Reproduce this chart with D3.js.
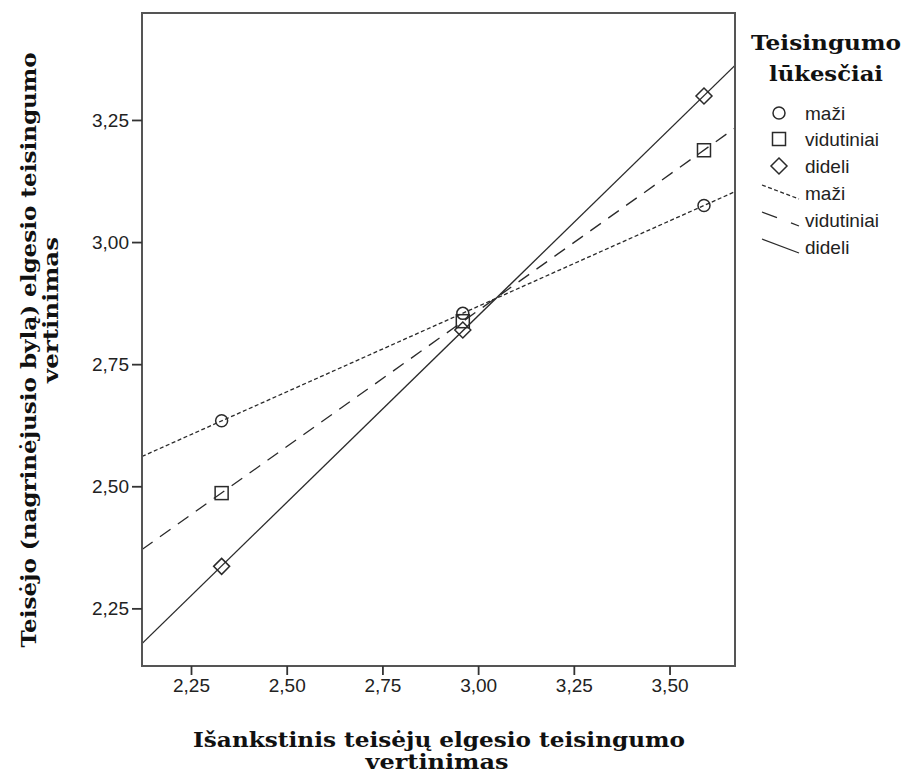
<!DOCTYPE html>
<html>
<head>
<meta charset="utf-8">
<script src="https://cdn.jsdelivr.net/npm/d3@7"></script>
<style>
  html, body { margin: 0; padding: 0; background: #fff; }
  svg { display: block; }
</style>
</head>
<body>
<svg id="chart" width="904" height="778"></svg>
<script>
// ---- data ----
const groupX = [2.33, 2.96, 3.59];
const seriesNames = ["maži", "vidutiniai", "dideli"];
const maziValues = [2.634, 2.854, 3.075];
const vidutiniaiValues = [2.486, 2.838, 3.188];
const dideliValues = [2.336, 2.820, 3.299];
const xTickValues = [2.25, 2.50, 2.75, 3.00, 3.25, 3.50];
const yTickValues = [2.25, 2.50, 2.75, 3.00, 3.25];
const xDomain = [2.122, 3.671];
const yDomain = [2.132, 3.469];
const xTitle = "Išankstinis teisėjų elgesio teisingumo";
const xTitle2 = "vertinimas";
const yTitle = "Teisėjo (nagrinėjusio bylą) elgesio teisingumo";
const yTitle2 = "vertinimas";
const legendTitle1 = "Teisingumo";
const legendTitle2 = "lūkesčiai";

const series = [
  { name: seriesNames[0], values: maziValues, marker: "circle", dash: "4,2.5", legDash: "4,2.5" },
  { name: seriesNames[1], values: vidutiniaiValues, marker: "square", dash: "13,9", legDash: "16,15" },
  { name: seriesNames[2], values: dideliValues, marker: "diamond", dash: null, legDash: null }
];

// ---- layout ----
const L = 142, R = 735, T = 13, B = 666;
const svg = d3.select("#chart");
const x = d3.scaleLinear().domain(xDomain).range([L, R]);
const y = d3.scaleLinear().domain(yDomain).range([B, T]);
const fmt = v => d3.format(".2f")(v).replace(".", ",");
const ink = "#2a2a2a";
const sansFont = "'Liberation Sans', Arial, sans-serif";
const serifFont = "'DejaVu Serif', serif";
const labelSize = 19;

svg.append("defs").append("clipPath").attr("id", "plotclip")
  .append("rect").attr("x", L).attr("y", T).attr("width", R - L).attr("height", B - T);

// least squares fit
function fit(xs, ys) {
  const mx = d3.mean(xs), my = d3.mean(ys);
  let num = 0, den = 0;
  xs.forEach((xv, i) => { num += (xv - mx) * (ys[i] - my); den += (xv - mx) * (xv - mx); });
  const b = num / den;
  return v => my + b * (v - mx);
}

// fit lines
const gLines = svg.append("g").attr("clip-path", "url(#plotclip)");
series.forEach(s => {
  const f = fit(groupX, s.values);
  gLines.append("line")
    .attr("x1", x(xDomain[0])).attr("y1", y(f(xDomain[0])))
    .attr("x2", x(xDomain[1])).attr("y2", y(f(xDomain[1])))
    .attr("stroke", ink).attr("stroke-width", 1.3)
    .attr("stroke-dasharray", s.dash);
});

// markers
function drawMarker(g, type, cx, cy) {
  if (type === "circle") {
    g.append("circle").attr("cx", cx).attr("cy", cy).attr("r", 6)
      .attr("fill", "none").attr("stroke", ink).attr("stroke-width", 1.5);
  } else if (type === "square") {
    g.append("rect").attr("x", cx - 6.5).attr("y", cy - 6.5).attr("width", 13).attr("height", 13)
      .attr("fill", "none").attr("stroke", ink).attr("stroke-width", 1.5);
  } else {
    const r = 8;
    g.append("path").attr("d", `M${cx},${cy - r}L${cx + r},${cy}L${cx},${cy + r}L${cx - r},${cy}Z`)
      .attr("fill", "none").attr("stroke", ink).attr("stroke-width", 1.5);
  }
}
const gMarks = svg.append("g");
series.forEach(s => {
  s.values.forEach((v, i) => drawMarker(gMarks, s.marker, x(groupX[i]), y(v)));
});

// frame
svg.append("rect").attr("x", L).attr("y", T).attr("width", R - L).attr("height", B - T)
  .attr("fill", "none").attr("stroke", "#555").attr("stroke-width", 2);

// axes
const xAxis = svg.append("g").attr("transform", `translate(0,${B})`)
  .call(d3.axisBottom(x).tickValues(xTickValues).tickFormat(fmt).tickSize(9).tickPadding(4));
const yAxis = svg.append("g").attr("transform", `translate(${L},0)`)
  .call(d3.axisLeft(y).tickValues(yTickValues).tickFormat(fmt).tickSize(10).tickPadding(3));
[xAxis, yAxis].forEach(a => {
  a.select(".domain").remove();
  a.selectAll(".tick line").attr("stroke", "#333").attr("stroke-width", 1.8);
  a.selectAll(".tick text").attr("fill", "#222").attr("font-family", sansFont).attr("font-size", labelSize);
});

// axis titles
const titleStyle = sel => sel.attr("font-family", serifFont).attr("font-weight", "bold")
  .attr("font-size", 20).attr("fill", "#111").attr("text-anchor", "middle");
svg.append("text").attr("x", 439).attr("y", 747).text(xTitle).call(titleStyle)
  .attr("textLength", 492).attr("lengthAdjust", "spacingAndGlyphs");
svg.append("text").attr("x", 437).attr("y", 769).text(xTitle2).call(titleStyle)
  .attr("textLength", 143).attr("lengthAdjust", "spacingAndGlyphs");
svg.append("text").attr("transform", "translate(36,350) rotate(-90)").text(yTitle).call(titleStyle)
  .attr("textLength", 595).attr("lengthAdjust", "spacingAndGlyphs");
svg.append("text").attr("transform", "translate(58,310) rotate(-90)").text(yTitle2).call(titleStyle)
  .attr("textLength", 146).attr("lengthAdjust", "spacingAndGlyphs");

// legend
svg.append("text").attr("x", 826).attr("y", 50).text(legendTitle1).call(titleStyle)
  .attr("textLength", 150).attr("lengthAdjust", "spacingAndGlyphs");
svg.append("text").attr("x", 826).attr("y", 81).text(legendTitle2).call(titleStyle)
  .attr("textLength", 114).attr("lengthAdjust", "spacingAndGlyphs");

const gLeg = svg.append("g");
const rowY = [113, 139, 166, 192, 219, 246];
const textX = 805;
series.forEach((s, i) => {
  drawMarker(gLeg, s.marker, 779, rowY[i]);
  gLeg.append("text").attr("x", textX).attr("y", rowY[i] + 7).text(s.name)
    .attr("font-family", sansFont).attr("font-size", labelSize).attr("fill", "#222");
});
series.forEach((s, i) => {
  const yy = rowY[3 + i];
  gLeg.append("line").attr("x1", 762).attr("y1", yy - 7).attr("x2", 799).attr("y2", yy + 7)
    .attr("stroke", ink).attr("stroke-width", 1.3).attr("stroke-dasharray", s.legDash);
  gLeg.append("text").attr("x", textX).attr("y", yy + 8).text(s.name)
    .attr("font-family", sansFont).attr("font-size", labelSize).attr("fill", "#222");
});
</script>
</body>
</html>
